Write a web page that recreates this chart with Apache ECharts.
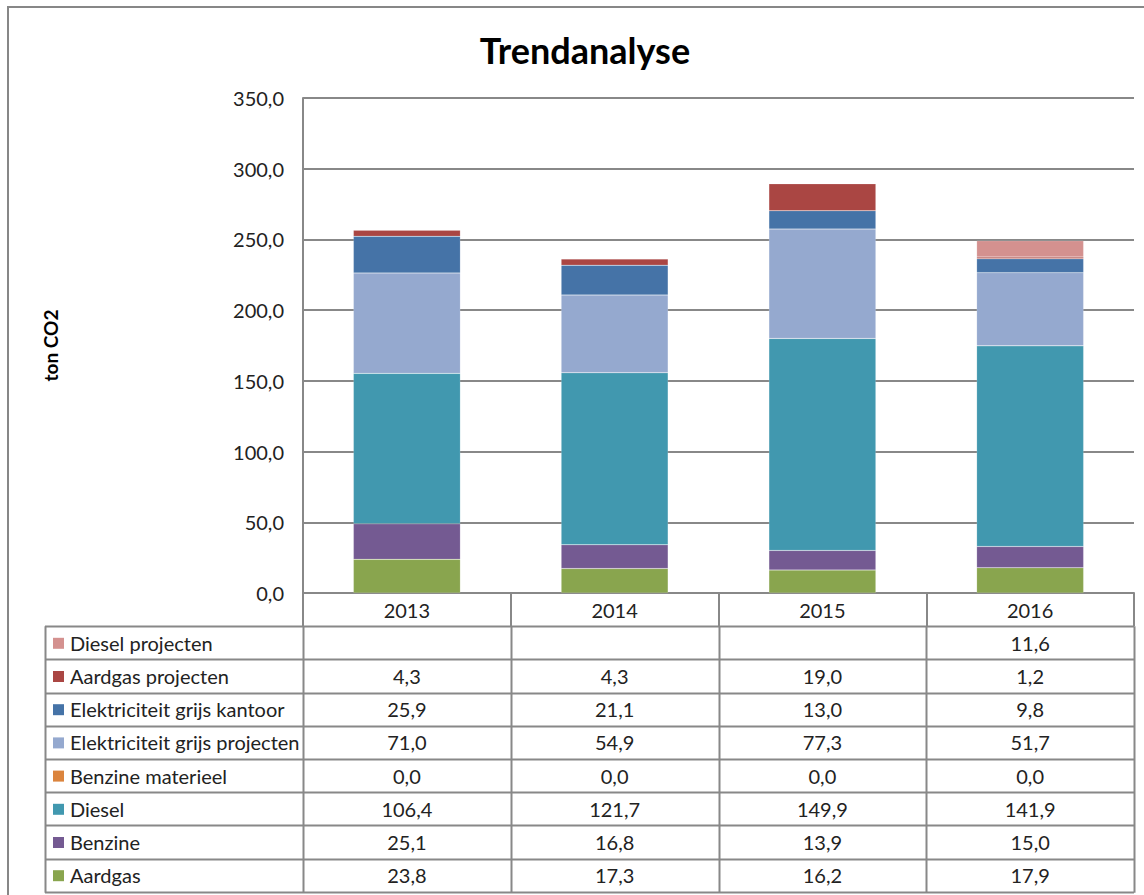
<!DOCTYPE html>
<html>
<head>
<meta charset="utf-8">
<script src="https://cdn.jsdelivr.net/npm/echarts@6/dist/echarts.min.js"></script>
<style>
  html, body { margin: 0; padding: 0; background: #fff; }
  #chart { width: 1144px; height: 895px; }
</style>
</head>
<body>
<div id="chart"></div>
<script>
// data
const years = ['2013', '2014', '2015', '2016'];
const aardgas = [23.8, 17.3, 16.2, 17.9];
const benzine = [25.1, 16.8, 13.9, 15.0];
const diesel = [106.4, 121.7, 149.9, 141.9];
const benzineMaterieel = [0.0, 0.0, 0.0, 0.0];
const elekProjecten = [71.0, 54.9, 77.3, 51.7];
const elekKantoor = [25.9, 21.1, 13.0, 9.8];
const aardgasProjecten = [4.3, 4.3, 19.0, 1.2];
const dieselProjecten = [null, null, null, 11.6];
const yTicks = [0, 50, 100, 150, 200, 250, 300, 350];

// stacking order, bottom first
const series = [
    { name: 'Aardgas', data: aardgas, color: '#89A54E' },
    { name: 'Benzine', data: benzine, color: '#745A92' },
    { name: 'Diesel', data: diesel, color: '#4198AF' },
    { name: 'Benzine materieel', data: benzineMaterieel, color: '#DB843D' },
    { name: 'Elektriciteit grijs projecten', data: elekProjecten, color: '#95A9CF' },
    { name: 'Elektriciteit grijs kantoor', data: elekKantoor, color: '#4573A7' },
    { name: 'Aardgas projecten', data: aardgasProjecten, color: '#AA4643' },
    { name: 'Diesel projecten', data: dieselProjecten, color: '#D4918F' }
];

const font = 'Lato, "Liberation Sans", sans-serif';
const fs = 20;
const lineColor = '#888888';
const fmt = v => (v === null || v === undefined) ? '' : v.toFixed(1).replace('.', ',');

// layout
const gridLeft = 303, gridRight = 1134, gridTop = 98, axisY = 593;
const rowH = 33.2, tableLeft = 45;
const colW = (gridRight - gridLeft) / years.length;
const headerBottom = axisY + rowH;

const graphics = [];
// outer frame (runs past the window on right and bottom)
graphics.push({
    type: 'rect', silent: true,
    shape: { x: 8, y: 7, width: 1160, height: 920 },
    style: { fill: 'none', stroke: '#878787', lineWidth: 2 }
});

// data table, top row = last series
const rows = series.slice().reverse();
const tableBottom = headerBottom + rows.length * rowH;
for (let i = 0; i <= rows.length; i++) {
    const y = Math.round(headerBottom + i * rowH) + 0.5;
    graphics.push({ type: 'line', silent: true,
        shape: { x1: tableLeft, y1: y, x2: gridRight, y2: y },
        style: { stroke: lineColor, lineWidth: 2 } });
}
const vx = [tableLeft];
for (let j = 0; j <= years.length; j++) vx.push(gridLeft + j * colW);
vx.forEach(x => {
    graphics.push({ type: 'line', silent: true,
        shape: { x1: Math.round(x) + 0.5, y1: headerBottom, x2: Math.round(x) + 0.5, y2: tableBottom + 1 },
        style: { stroke: lineColor, lineWidth: 2 } });
});
rows.forEach((s, i) => {
    const cy = headerBottom + i * rowH + rowH / 2;
    graphics.push({ type: 'rect', silent: true,
        shape: { x: 53, y: cy - 5, width: 11, height: 11 },
        style: { fill: s.color } });
    graphics.push({ type: 'text', silent: true, x: 70, y: cy,
        style: { text: s.name, font: fs + 'px ' + font, fill: '#222', verticalAlign: 'middle', align: 'left' } });
    s.data.forEach((v, j) => {
        graphics.push({ type: 'text', silent: true, x: gridLeft + (j + 0.5) * colW, y: cy,
            style: { text: fmt(v), font: fs + 'px ' + font, fill: '#222', verticalAlign: 'middle', align: 'center' } });
    });
});

const chart = echarts.init(document.getElementById('chart'), null, { renderer: 'svg' });

chart.setOption({
    animation: false,
    backgroundColor: '#fff',
    title: {
        text: 'Trendanalyse',
        left: 580, top: 27, textAlign: 'center',
        textStyle: { fontFamily: font, fontWeight: 'bold', fontSize: 36, color: '#000' }
    },
    grid: { left: gridLeft, right: 1144 - gridRight, top: gridTop, bottom: 895 - axisY },
    xAxis: {
        type: 'category',
        data: years,
        axisLine: { lineStyle: { color: lineColor, width: 2 } },
        axisTick: { show: true, length: rowH, lineStyle: { color: lineColor, width: 2 } },
        axisLabel: { fontFamily: font, fontSize: fs, color: '#222', margin: 7 }
    },
    yAxis: {
        type: 'value',
        min: yTicks[0], max: yTicks[yTicks.length - 1], interval: 50,
        name: 'ton CO2', nameLocation: 'middle', nameRotate: 90, nameGap: 243,
        nameTextStyle: { fontFamily: font, fontWeight: 'bold', fontSize: 19, color: '#000' },
        axisLine: { show: true, lineStyle: { color: lineColor, width: 2 } },
        axisTick: { show: false },
        axisLabel: { fontFamily: font, fontSize: fs, color: '#222', margin: 19, formatter: v => fmt(v) },
        splitLine: { lineStyle: { color: lineColor, width: 2 } }
    },
    series: series.map(s => ({
        name: s.name,
        type: 'bar',
        stack: 'total',
        barWidth: '51.5%',
        data: s.data,
        itemStyle: { color: s.color, borderColor: 'rgba(255,255,255,0.3)', borderWidth: 0.5 }
    })),
    graphic: graphics
});
</script>
</body>
</html>
